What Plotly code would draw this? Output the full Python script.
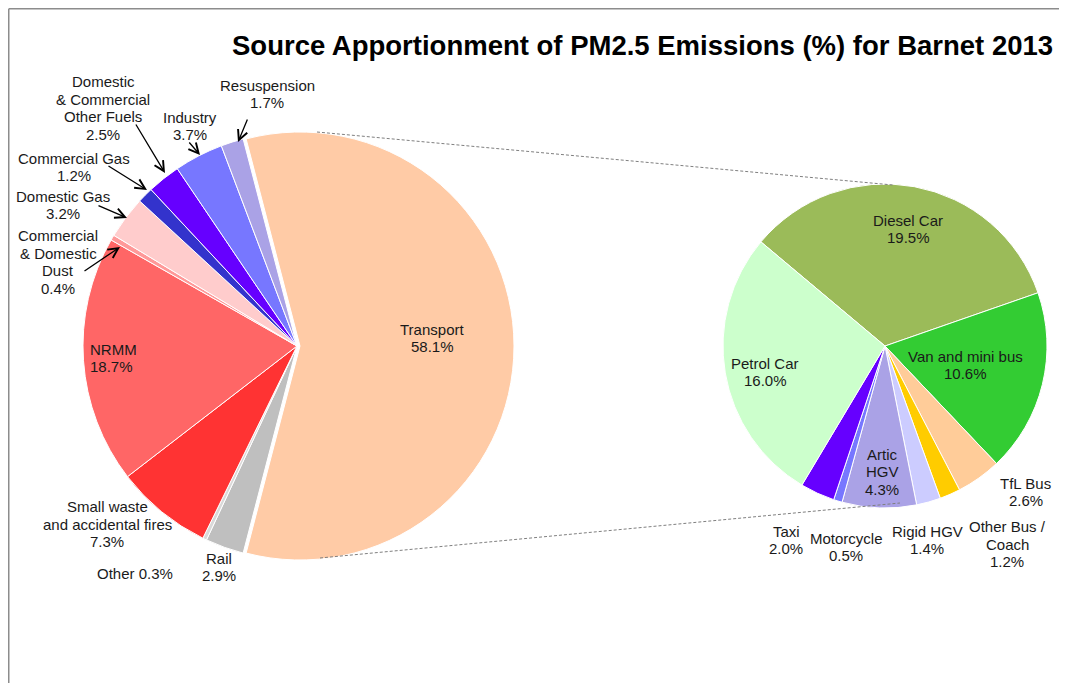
import plotly.graph_objects as go

# main pie: all sources, % of total PM2.5
left_names = ["Transport", "Rail", "Other", "Small waste and accidental fires", "NRMM",
              "Commercial & Domestic Dust", "Domestic Gas", "Commercial Gas",
              "Domestic & Commercial Other Fuels", "Industry", "Resuspension"]
left_values = [58.1, 2.9, 0.3, 7.3, 18.7, 0.4, 3.2, 1.2, 2.5, 3.7, 1.7]
left_colors = ["#FFCBA6", "#BFBFBF", "#D9D9D9", "#FF3333", "#FF6666", "#FF9999",
               "#FFCCCC", "#3333CC", "#6600FF", "#7777FF", "#AAA2E6"]

# secondary pie: breakdown of transport, % of total PM2.5
right_names = ["Diesel Car", "Van and mini bus", "TfL Bus", "Other Bus / Coach", "Rigid HGV",
               "Artic HGV", "Motorcycle", "Taxi", "Petrol Car"]
right_values = [19.5, 10.6, 2.6, 1.2, 1.4, 4.3, 0.5, 2.0, 16.0]
right_colors = ["#9BBB59", "#33CC33", "#FFCC99", "#FFCC00", "#CCCCFF",
                "#AAA2E6", "#7777FF", "#6600FF", "#CCFFCC"]

# the page body has an 8px margin, so the figure is drawn 8px in and down
OFF = 8
W, H = 1067 - OFF, 683 - OFF
FONT = "Liberation Sans, Arial, sans-serif"
LINE = 17.5  # line spacing of the labels, px


def px(x, y):
    """screen pixel position (top-left origin) -> paper coords"""
    return (x - OFF) / W, 1 - (y - OFF) / H


def dom(cx, cy, half):
    x0, y0 = px(cx - half, cy + half)
    x1, y1 = px(cx + half, cy - half)
    return dict(x=[x0, x1], y=[y0, y1])


# how the label names wrap, as in the original
wrap = {
    "Small waste and accidental fires": "Small waste<br>and accidental fires",
    "Commercial & Domestic Dust": "Commercial<br>& Domestic<br>Dust",
    "Domestic & Commercial Other Fuels": "Domestic<br>& Commercial<br>Other Fuels",
    "Other Bus / Coach": "Other Bus /<br>Coach",
    "Artic HGV": "Artic<br>HGV",
}
one_line = {"Other"}

# label centre (px), anchor, and optional arrow (tail, head)
left_label_pos = {
    "Transport": (432, 338, "center", None),
    "Rail": (219, 567, "center", None),
    "Other": (135, 573, "center", None),
    "Small waste and accidental fires": (107, 524, "center", None),
    "NRMM": (88, 358, "left", None),
    "Commercial & Domestic Dust": (58, 262, "center", ((83, 272), (120, 247))),
    "Domestic Gas": (63, 205, "center", ((97, 205), (127, 218))),
    "Commercial Gas": (74, 167, "center", ((107, 165), (147, 190))),
    "Domestic & Commercial Other Fuels": (103, 108, "center", ((135, 123), (165, 173))),
    "Industry": (190, 126, "center", ((188, 141), (200, 155))),
    "Resuspension": (267, 94, "center", ((248, 118), (238, 142))),
}
right_label_pos = {
    "Diesel Car": (908, 229, "center", None),
    "Van and mini bus": (965, 365, "center", None),
    "TfL Bus": (1026, 492, "center", None),
    "Other Bus / Coach": (1007, 544, "center", None),
    "Rigid HGV": (927, 540, "center", None),
    "Artic HGV": (882, 472, "center", None),
    "Motorcycle": (846, 547, "center", None),
    "Taxi": (786, 540, "center", None),
    "Petrol Car": (765, 372, "center", None),
}

fig = go.Figure()

# left pie, centre (297,346), r 214, transport pulled slightly
pull = 0.014
fig.add_trace(go.Pie(
    labels=left_names, values=left_values, sort=False, direction="clockwise",
    rotation=90 - left_values[0] / sum(left_values) * 180,
    marker=dict(colors=left_colors, line=dict(color="white", width=1)),
    pull=[pull] + [0] * (len(left_values) - 1),
    textinfo="none", hoverinfo="label+value", showlegend=False,
    domain=dom(297, 346, 214 * (1 + pull)),
))

# right pie, centre (885,346), r 162
fig.add_trace(go.Pie(
    labels=right_names, values=right_values, sort=False, direction="clockwise",
    rotation=-50,
    marker=dict(colors=right_colors, line=dict(color="white", width=1)),
    textinfo="none", hoverinfo="label+value", showlegend=False,
    domain=dom(885, 346, 162),
))

annotations = []
for names, values, pos in [(left_names, left_values, left_label_pos),
                           (right_names, right_values, right_label_pos)]:
    for name, val in zip(names, values):
        x, y, anchor, arrow = pos[name]
        sep = " " if name in one_line else "<br>"
        lines = f"{wrap.get(name, name)}{sep}{val:.1f}%".split("<br>")
        for i, line in enumerate(lines):
            ly = y + (i - (len(lines) - 1) / 2) * LINE
            xp, yp = px(x, ly)
            annotations.append(dict(x=xp, y=yp, xref="paper", yref="paper", text=line,
                                    showarrow=False, xanchor=anchor, yanchor="middle",
                                    font=dict(family=FONT, size=15, color="#1A1A1A")))
        if arrow:
            (tx, ty), (hx, hy) = arrow
            hxp, hyp = px(hx, hy)
            annotations.append(dict(x=hxp, y=hyp, xref="paper", yref="paper", text="",
                                    showarrow=True, ax=tx - hx, ay=ty - hy,
                                    arrowhead=5, arrowsize=1.5, arrowwidth=1.3,
                                    arrowcolor="#000000", standoff=0))

# title
tx, ty = px(1055, 45)
annotations.append(dict(x=tx, y=ty, xref="paper", yref="paper",
                        text="<b>Source Apportionment of PM2.5 Emissions (%) for Barnet 2013</b>",
                        showarrow=False, xanchor="right", yanchor="middle",
                        font=dict(family=FONT, size=27.5, color="#000000")))

shapes = []
# connector lines between the two pies
for (x0, y0), (x1, y1) in [((317, 132), (893, 185)), ((320, 558), (900, 503))]:
    a, b = px(x0, y0)
    c, d = px(x1, y1)
    shapes.append(dict(type="line", xref="paper", yref="paper", x0=a, y0=b, x1=c, y1=d,
                       line=dict(color="#7F7F7F", width=1, dash="3px,2px")))
# chart-area border (top and left edges visible), as close to the edge as the page allows
for (x0, y0), (x1, y1) in [((OFF + 0.75, OFF + 0.75), (W + OFF, OFF + 0.75)),
                           ((OFF + 0.75, OFF + 0.75), (OFF + 0.75, H + OFF))]:
    a, b = px(x0, y0)
    c, d = px(x1, y1)
    shapes.append(dict(type="line", xref="paper", yref="paper", x0=a, y0=b, x1=c, y1=d,
                       line=dict(color="#8C8C8C", width=1.5)))

fig.update_layout(
    width=W, height=H,
    margin=dict(l=0, r=0, t=0, b=0),
    paper_bgcolor="white", plot_bgcolor="white",
    annotations=annotations, shapes=shapes,
    font=dict(family=FONT),
)

fig.write_html("out.html")
